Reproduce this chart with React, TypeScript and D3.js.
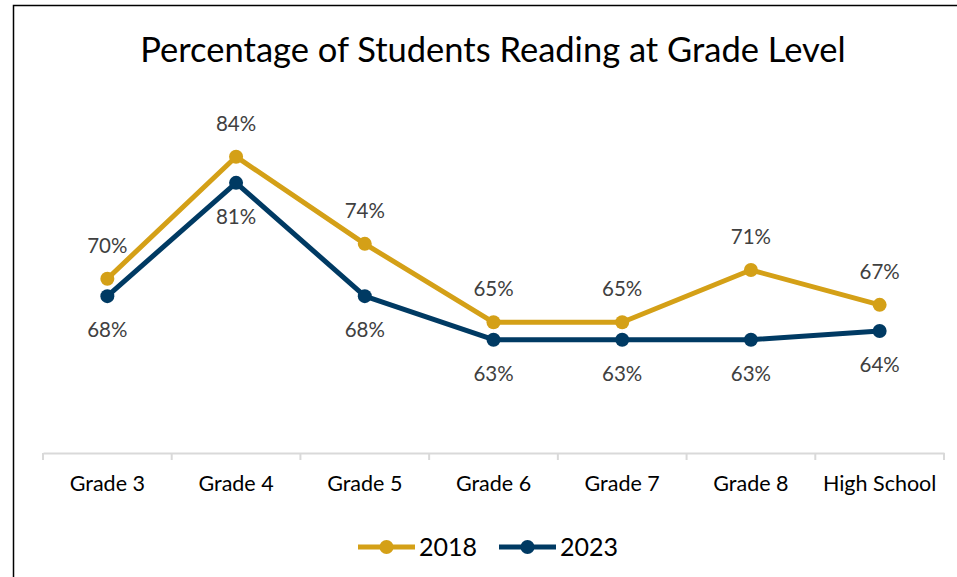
import { useEffect, useRef } from "react";
import * as d3 from "d3";

const grades = ["Grade 3", "Grade 4", "Grade 5", "Grade 6", "Grade 7", "Grade 8", "High School"];
const values2018 = [0.7, 0.84, 0.74, 0.65, 0.65, 0.71, 0.67];
const values2023 = [0.68, 0.81, 0.68, 0.63, 0.63, 0.63, 0.64];
const seriesNames = ["2018", "2023"];
const colors = ["#D4A017", "#003A63"];

const font = "Lato, 'Open Sans', sans-serif";

const App = () => {
    const ref = useRef<SVGSVGElement>(null);

    useEffect(() => {
        const svg = d3.select(ref.current);
        svg.selectAll("*").remove(); // Clear previous render

        const width = 957;
        const height = 577;

        // chart frame, runs off the right and bottom of the window
        svg.append("rect")
            .attr("x", 13.5).attr("y", 5.5)
            .attr("width", 1000).attr("height", 700)
            .attr("fill", "#fff").attr("stroke", "#000").attr("stroke-width", 1.5);

        svg.append("text")
            .attr("x", 493).attr("y", 62)
            .attr("text-anchor", "middle")
            .attr("font-family", font)
            .attr("font-size", 34.5)
            .attr("fill", "#000")
            .text("Percentage of Students Reading at Grade Level");

        const x = d3.scaleBand().domain(grades).range([43, 944]);
        const y = d3.scaleLinear().domain([0.5, 0.9]).range([453, 104.4]);

        // category axis
        const axis = svg.append("g")
            .attr("transform", `translate(0,453)`)
            .call(d3.axisBottom(x).tickSize(0).tickPadding(23));
        axis.select(".domain").attr("stroke", "#d9d9d9").attr("stroke-width", 2);
        axis.selectAll("text")
            .attr("font-family", font).attr("font-size", 21.5).attr("fill", "#000");
        axis.selectAll(".sep")
            .data(d3.range(grades.length + 1))
            .enter().append("line")
            .attr("x1", (i) => 43 + i * x.step()).attr("x2", (i) => 43 + i * x.step())
            .attr("y1", 0).attr("y2", 7)
            .attr("stroke", "#d9d9d9").attr("stroke-width", 2);

        const cx = (d: string) => (x(d) ?? 0) + x.bandwidth() / 2;
        const all = [values2018, values2023];

        all.forEach((vals, si) => {
            const pts = grades.map((g, i) => ({ g, v: vals[i] }));
            const line = d3.line<{ g: string; v: number }>()
                .x((d) => cx(d.g))
                .y((d) => y(d.v));
            svg.append("path")
                .datum(pts)
                .attr("d", line)
                .attr("fill", "none")
                .attr("stroke", colors[si])
                .attr("stroke-width", 5)
                .attr("stroke-linejoin", "round");
            svg.selectAll(`circle.s${si}`)
                .data(pts).enter().append("circle")
                .attr("cx", (d) => cx(d.g)).attr("cy", (d) => y(d.v))
                .attr("r", 7).attr("fill", colors[si]);
            svg.selectAll(`text.l${si}`)
                .data(pts).enter().append("text")
                .attr("x", (d) => cx(d.g))
                .attr("y", (d) => y(d.v) + (si === 0 ? -26 : 41))
                .attr("text-anchor", "middle")
                .attr("font-family", font).attr("font-size", 20.5)
                .attr("fill", "#404040")
                .text((d) => `${Math.round(d.v * 100)}%`);
        });

        // legend
        const legendX = [358, 499];
        seriesNames.forEach((name, si) => {
            const lx = legendX[si];
            svg.append("line")
                .attr("x1", lx).attr("x2", lx + 57)
                .attr("y1", 547).attr("y2", 547)
                .attr("stroke", colors[si]).attr("stroke-width", 5);
            svg.append("circle")
                .attr("cx", lx + 28.5).attr("cy", 547).attr("r", 7)
                .attr("fill", colors[si]);
            svg.append("text")
                .attr("x", lx + 61).attr("y", 556)
                .attr("font-family", font).attr("font-size", 25)
                .attr("fill", "#000")
                .text(name);
        });

        svg.attr("width", width).attr("height", height);
    }, []);

    return (
        <svg ref={ref} style={{ position: "absolute", left: 0, top: 0 }}></svg>
    );
};

export default App;
